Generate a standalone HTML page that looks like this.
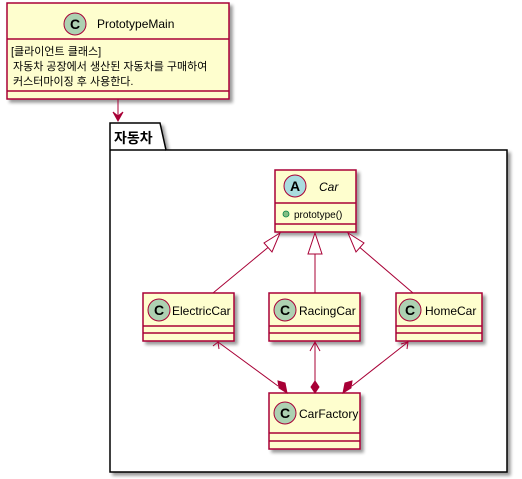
<!DOCTYPE html>
<html><head><meta charset="utf-8"><style>
html,body{margin:0;padding:0;background:#fff;width:522px;height:479px;overflow:hidden}
text{font-family:"Liberation Sans","Noto Sans CJK KR",sans-serif}
</style></head><body>
<svg width="522" height="479" xmlns="http://www.w3.org/2000/svg">
<defs>
<filter id="sh" x="-10%" y="-10%" width="130%" height="130%"><feGaussianBlur in="SourceAlpha" stdDeviation="1.5"/><feOffset dx="3" dy="3"/><feComponentTransfer><feFuncA type="linear" slope="0.4"/></feComponentTransfer><feMerge><feMergeNode/><feMergeNode in="SourceGraphic"/></feMerge></filter>
</defs>
<!-- package -->
<g filter="url(#sh)">
<path d="M110,123 L160,123 L166,150 L507,150 L507,472 L110,472 Z" fill="#fff" stroke="#000" stroke-width="1.5"/>
</g>
<line x1="110" y1="150" x2="166" y2="150" stroke="#000" stroke-width="1.5"/>
<text x="114" y="143" font-size="14" font-weight="bold">자동차</text>

<!-- PrototypeMain -->
<g filter="url(#sh)"><rect x="7" y="3" width="222" height="96" fill="#FEFECE" stroke="#A80036" stroke-width="1.5"/></g>
<line x1="7" y1="39" x2="229" y2="39" stroke="#A80036" stroke-width="1.5"/>
<line x1="7" y1="91" x2="229" y2="91" stroke="#A80036" stroke-width="1.5"/>
<circle cx="75" cy="24" r="11" fill="#ADD1B2" stroke="#A80036"/>
<text x="75" y="29" font-size="14" font-weight="bold" text-anchor="middle">C</text>
<text x="97" y="28" font-size="12">PrototypeMain</text>
<text x="11" y="55" font-size="11">[클라이언트 클래스]</text>
<text x="13" y="70" font-size="11">자동차 공장에서 생산된 자동차를 구매하여</text>
<text x="13" y="85" font-size="11">커스터마이징 후 사용한다.</text>
<line x1="118" y1="99" x2="118" y2="120" stroke="#A80036" stroke-width="1"/>
<path d="M113,112 L118,121 L123,112 L118,116 Z" fill="#A80036" stroke="#A80036"/>

<!-- Car -->
<g filter="url(#sh)"><rect x="275" y="170" width="81" height="62" fill="#FEFECE" stroke="#A80036" stroke-width="1.5"/></g>
<line x1="275" y1="203" x2="356" y2="203" stroke="#A80036" stroke-width="1.5"/>
<line x1="275" y1="224" x2="356" y2="224" stroke="#A80036" stroke-width="1.5"/>
<circle cx="295" cy="186" r="11" fill="#A9DCDF" stroke="#A80036"/>
<text x="295" y="191" font-size="14" font-weight="bold" text-anchor="middle">A</text>
<text x="319" y="191" font-size="12" font-style="italic">Car</text>
<circle cx="286" cy="214" r="3" fill="#84BE84" stroke="#038048" stroke-width="0.8"/>
<text x="294" y="218" font-size="10">prototype()</text>

<!-- subclasses -->
<g font-size="12">
<g filter="url(#sh)"><rect x="143" y="293" width="91" height="48" fill="#FEFECE" stroke="#A80036" stroke-width="1.5"/></g>
<line x1="143" y1="326" x2="234" y2="326" stroke="#A80036" stroke-width="1.5"/><line x1="143" y1="333" x2="234" y2="333" stroke="#A80036" stroke-width="1.5"/>
<circle cx="159" cy="310" r="11" fill="#ADD1B2" stroke="#A80036"/><text x="159" y="315" font-size="14" font-weight="bold" text-anchor="middle">C</text>
<text x="172" y="315">ElectricCar</text>

<g filter="url(#sh)"><rect x="269" y="293" width="91" height="48" fill="#FEFECE" stroke="#A80036" stroke-width="1.5"/></g>
<line x1="269" y1="326" x2="360" y2="326" stroke="#A80036" stroke-width="1.5"/><line x1="269" y1="333" x2="360" y2="333" stroke="#A80036" stroke-width="1.5"/>
<circle cx="285" cy="310" r="11" fill="#ADD1B2" stroke="#A80036"/><text x="285" y="315" font-size="14" font-weight="bold" text-anchor="middle">C</text>
<text x="299" y="315">RacingCar</text>

<g filter="url(#sh)"><rect x="396" y="293" width="86" height="48" fill="#FEFECE" stroke="#A80036" stroke-width="1.5"/></g>
<line x1="396" y1="326" x2="482" y2="326" stroke="#A80036" stroke-width="1.5"/><line x1="396" y1="333" x2="482" y2="333" stroke="#A80036" stroke-width="1.5"/>
<circle cx="410" cy="310" r="11" fill="#ADD1B2" stroke="#A80036"/><text x="410" y="315" font-size="14" font-weight="bold" text-anchor="middle">C</text>
<text x="425" y="315">HomeCar</text>

<g filter="url(#sh)"><rect x="269" y="393" width="91" height="56" fill="#FEFECE" stroke="#A80036" stroke-width="1.5"/></g>
<line x1="269" y1="433" x2="360" y2="433" stroke="#A80036" stroke-width="1.5"/><line x1="269" y1="441" x2="360" y2="441" stroke="#A80036" stroke-width="1.5"/>
<circle cx="285" cy="413" r="11" fill="#ADD1B2" stroke="#A80036"/><text x="285" y="418" font-size="14" font-weight="bold" text-anchor="middle">C</text>
<text x="299" y="418">CarFactory</text>
</g>

<!-- inheritance -->
<g stroke="#A80036" fill="none" stroke-width="1">
<line x1="213" y1="293" x2="271" y2="245"/>
<path d="M280,233 L264,243 L272,252 Z" fill="#fff"/>
<line x1="315" y1="293" x2="315" y2="254"/>
<path d="M315,233 L308,254 L322,254 Z" fill="#fff"/>
<line x1="413" y1="293" x2="357" y2="245"/>
<path d="M348,233 L364,243 L356,252 Z" fill="#fff"/>
</g>
<!-- composition -->
<g stroke="#A80036" stroke-width="1">
<line x1="218" y1="342" x2="278" y2="386"/>
<path d="M213,346 L218,342 L219,349" fill="none"/>
<path d="M287,393 L285,383 L278,381 L279,388 Z" fill="#A80036"/>
<line x1="315" y1="342" x2="315" y2="381"/>
<path d="M310,351 L315,342 L320,351" fill="none"/>
<path d="M315,393 L311,387 L315,381 L319,387 Z" fill="#A80036"/>
<line x1="408" y1="342" x2="352" y2="386"/>
<path d="M401,344 L408,342 L407,349" fill="none"/>
<path d="M343,393 L345,383 L352,381 L351,388 Z" fill="#A80036"/>
</g>
</svg>
</body></html>
